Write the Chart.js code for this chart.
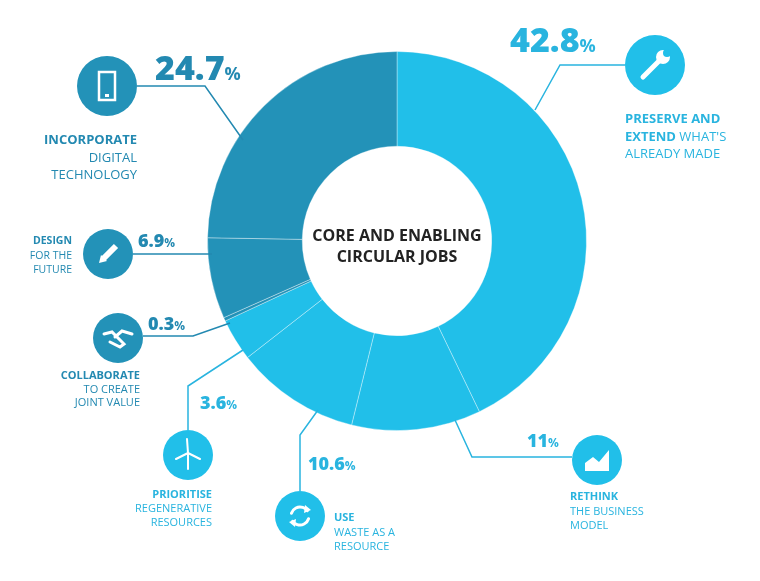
<!DOCTYPE html>
<html><head><meta charset="utf-8">
<script src="https://cdn.jsdelivr.net/npm/chart.js@4"></script>
<style>html,body{margin:0;padding:0;background:#fff}#wrap{width:760px;height:581px}</style>
</head><body><div id="wrap"><canvas id="c"></canvas></div>
<script>
const categories = ["Preserve and extend what's already made","Rethink the business model","Use waste as a resource","Prioritise regenerative resources","Collaborate to create joint value","Design for the future","Incorporate digital technology"];
const values = [42.8, 11, 10.6, 3.6, 0.3, 6.9, 24.7];
const valueLabels = ["42.8","11","10.6","3.6","0.3","6.9","24.7"];
const LIGHT = '#21bfe9', DARK = '#2392b8', TL = '#29b4df', TD = '#2389b1';
const colors = [LIGHT, LIGHT, LIGHT, LIGHT, DARK, DARK, DARK];
const F = '"Open Sans", "Lato", sans-serif';

const notes = [
 {icon:[655,65,30], path:[[625,65],[560,65],[535,110]], pct:[510,52,34,18], lines:[[[ 'PRESERVE AND',1]],[['EXTEND ',1],["WHAT'S",0]],[['ALREADY MADE',0]]], lx:625, ly:123, align:'left', fs:13, lh:17.5, type:'wrench'},
 {icon:[597,460,25], path:[[572,457],[472,457],[455,420]], pct:[527,447,18,12], lines:[[['RETHINK',1]],[['THE BUSINESS',0]],[['MODEL',0]]], lx:570, ly:500, align:'left', fs:11, lh:14.5, type:'chart'},
 {icon:[300,516,25], path:[[300,491],[300,435],[318,410]], pct:[308,470,18,12], lines:[[['USE',1]],[['WASTE AS A',0]],[['RESOURCE',0]]], lx:334, ly:521, align:'left', fs:11, lh:14.5, type:'recycle'},
 {icon:[188,455,25], path:[[188,430],[188,386],[243,350]], pct:[200,409,18,12], lines:[[['PRIORITISE',1]],[['REGENERATIVE',0]],[['RESOURCES',0]]], lx:212, ly:498, align:'right', fs:11, lh:14, type:'wind'},
 {icon:[118,338,25], path:[[143,336],[193,336],[230,323]], pct:[148,330,18,12], lines:[[['COLLABORATE',1]],[['TO CREATE',0]],[['JOINT VALUE',0]]], lx:140, ly:379, align:'right', fs:11, lh:13.5, type:'hands'},
 {icon:[108,254,25], path:[[133,254],[212,254]], pct:[138,247,18,12], lines:[[['DESIGN',1]],[['FOR THE',0]],[['FUTURE',0]]], lx:72, ly:244, align:'right', fs:10.5, lh:14.5, type:'pencil'},
 {icon:[107,86,30], path:[[137,86],[205,86],[243,140]], pct:[155,80,34,18], lines:[[['INCORPORATE',1]],[['DIGITAL',0]],[['TECHNOLOGY',0]]], lx:137, ly:144, align:'right', fs:13, lh:17.5, type:'phone'}
];

function drawIcon(ctx,t,x,y,r){
 ctx.save(); ctx.strokeStyle='#fff'; ctx.fillStyle='#fff'; ctx.lineWidth=2.5; ctx.lineCap='round';
 const s=r/25;
 if(t==='phone'){ctx.lineWidth=2.5;ctx.strokeRect(x-8,y-14,16,28);ctx.fillRect(x-2,y+8,4,3);}
 else if(t==='wrench'){ctx.lineWidth=5;ctx.beginPath();ctx.moveTo(x-12,y+12);ctx.lineTo(x+5,y-5);ctx.stroke();ctx.beginPath();ctx.arc(x+8,y-8,7,0,Math.PI*2);ctx.fill();ctx.fillStyle=LIGHT;ctx.beginPath();ctx.arc(x+12,y-12,4,0,Math.PI*2);ctx.fill();}
 else if(t==='pencil'){ctx.lineWidth=6;ctx.lineCap='butt';ctx.beginPath();ctx.moveTo(x-5*s,y+5*s);ctx.lineTo(x+8*s,y-8*s);ctx.stroke();ctx.beginPath();ctx.moveTo(x-7,y+1);ctx.lineTo(x-1,y+7);ctx.lineTo(x-9,y+9);ctx.fill();}
 else if(t==='hands'){ctx.lineWidth=3;ctx.beginPath();ctx.moveTo(x-14,y-4);ctx.lineTo(x-6,y-6);ctx.lineTo(x+6,y+6);ctx.lineTo(x+2,y+9);ctx.lineTo(x-8,y+4);ctx.stroke();ctx.beginPath();ctx.moveTo(x+14,y-4);ctx.lineTo(x+4,y-7);ctx.lineTo(x-3,y-1);ctx.stroke();}
 else if(t==='wind'){ctx.lineWidth=2;ctx.beginPath();ctx.moveTo(x,y-2);ctx.lineTo(x,y+14);ctx.stroke();ctx.beginPath();ctx.moveTo(x,y-2);ctx.lineTo(x-1,y-16);ctx.moveTo(x,y-2);ctx.lineTo(x+12,y+4);ctx.moveTo(x,y-2);ctx.lineTo(x-12,y+4);ctx.stroke();}
 else if(t==='recycle'){ctx.lineWidth=3;ctx.beginPath();ctx.arc(x,y,9,Math.PI*1.1,Math.PI*1.8);ctx.stroke();ctx.beginPath();ctx.arc(x,y,9,Math.PI*0.1,Math.PI*0.8);ctx.stroke();ctx.beginPath();ctx.moveTo(x+5,y-11);ctx.lineTo(x+11,y-6);ctx.lineTo(x+4,y-3);ctx.fill();ctx.beginPath();ctx.moveTo(x-5,y+11);ctx.lineTo(x-11,y+6);ctx.lineTo(x-4,y+3);ctx.fill();}
 else if(t==='chart'){ctx.beginPath();ctx.moveTo(x-12,y+11);ctx.lineTo(x-12,y+3);ctx.lineTo(x-4,y-3);ctx.lineTo(x+2,y+2);ctx.lineTo(x+12,y-10);ctx.lineTo(x+12,y+11);ctx.closePath();ctx.fill();}
 ctx.restore();
}

const overlay = {
 id:'overlay',
 afterDraw(chart){
  const ctx=chart.ctx; const meta=chart.getDatasetMeta(0); const a=meta.data[0];
  ctx.save();
  ctx.fillStyle='#222'; ctx.font='bold 16px '+F; ctx.textAlign='center'; ctx.textBaseline='middle';
  ctx.fillText('CORE AND ENABLING', a.x, a.y-5); ctx.fillText('CIRCULAR JOBS', a.x, a.y+16);
  notes.forEach((n,i)=>{
   const col = colors[i]===LIGHT ? TL : TD;
   ctx.strokeStyle=col; ctx.lineWidth=1.5; ctx.beginPath();
   n.path.forEach((p,j)=> j?ctx.lineTo(p[0],p[1]):ctx.moveTo(p[0],p[1])); ctx.stroke();
   ctx.fillStyle=colors[i]; ctx.beginPath(); ctx.arc(n.icon[0],n.icon[1],n.icon[2],0,Math.PI*2); ctx.fill();
   drawIcon(ctx,n.type,n.icon[0],n.icon[1],n.icon[2]);
   ctx.fillStyle=col; ctx.textAlign='left'; ctx.textBaseline='alphabetic';
   ctx.font='800 '+n.pct[2]+'px '+F; ctx.fillText(valueLabels[i], n.pct[0], n.pct[1]);
   const w=ctx.measureText(valueLabels[i]).width;
   ctx.font='bold '+n.pct[3]+'px '+F; ctx.fillText('%', n.pct[0]+w, n.pct[1]);
   n.lines.forEach((ln,k)=>{
    let tot=0; ln.forEach(sg=>{ctx.font=(sg[1]?'bold ':'')+n.fs+'px '+F; tot+=ctx.measureText(sg[0]).width;});
    let x = n.align==='left'? n.lx : n.lx-tot; const y=n.ly+k*n.lh;
    ln.forEach(sg=>{ctx.font=(sg[1]?'bold ':'')+n.fs+'px '+F; ctx.fillText(sg[0],x,y); x+=ctx.measureText(sg[0]).width;});
   });
  });
  ctx.restore();
 }
};

new Chart(document.getElementById('c'),{
 type:'doughnut',
 data:{labels:categories,datasets:[{data:values,backgroundColor:colors,borderColor:'rgba(255,255,255,0.35)',borderWidth:1}]},
 options:{responsive:true,maintainAspectRatio:false,animation:false,cutout:'50%',
  layout:{padding:{left:207,right:173,top:51,bottom:150}},
  plugins:{legend:{display:false},tooltip:{enabled:false}}},
 plugins:[overlay]
});
</script></body></html>
